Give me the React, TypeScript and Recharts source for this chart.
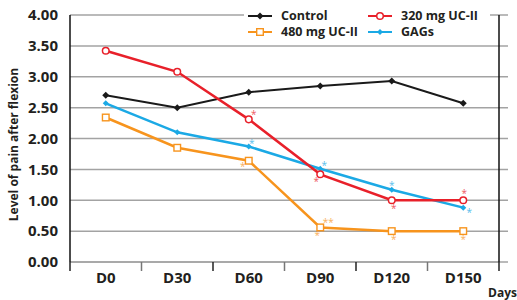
import React from "react";
import { LineChart, Line, XAxis, YAxis, CartesianGrid } from "recharts";

const days = ["D0", "D30", "D60", "D90", "D120", "D150"];
const control = [2.7, 2.5, 2.75, 2.85, 2.93, 2.57];
const uc320 = [3.42, 3.08, 2.31, 1.42, 1.0, 1.0];
const uc480 = [2.34, 1.85, 1.64, 0.56, 0.5, 0.5];
const gags = [2.57, 2.1, 1.87, 1.51, 1.17, 0.88];
const yTicks = [0, 0.5, 1, 1.5, 2, 2.5, 3, 3.5, 4];

// significance marks next to the points
const uc320Sig = ["", "", "*", "*", "*", "*"];
const uc480Sig = ["", "", "*", "*", "*", "*"];
const uc480Sig2 = ["", "", "", "**", "", ""];
const gagsSig = ["", "", "*", "*", "*", "*"];

const FONT = "'Open Sans', sans-serif";
const TXT = "#231f20";
const C = { control: "#1a1a1a", uc320: "#e8202a", uc480: "#f7941d", gags: "#1ba9e5" };

const data = days.map((d, i) => ({
  x: i + 0.5,
  day: d,
  control: control[i],
  uc320: uc320[i],
  uc480: uc480[i],
  gags: gags[i],
  uc320Sig: uc320Sig[i],
  uc480Sig: uc480Sig[i],
  uc480Sig2: uc480Sig2[i],
  gagsSig: gagsSig[i],
}));

// where the stars sit relative to each point
const starOffsets: Record<string, (number[] | null)[]> = {
  uc320Sig: [null, null, [5, -6], [-4, 6], [2, 7], [1, -8]],
  uc480Sig: [null, null, [-6, 4], [-3, 7], [2, 7], [0, 7]],
  uc480Sig2: [null, null, null, [8, -6], null, null],
  gagsSig: [null, null, [3, -5], [4, -5], [0, -6], [6, 3]],
};

const marker = (kind: string, cx: number, cy: number, k?: string) => {
  if (kind === "control")
    return <polygon key={k} points={`${cx},${cy - 3.5} ${cx + 3.5},${cy} ${cx},${cy + 3.5} ${cx - 3.5},${cy}`} fill={C.control} />;
  if (kind === "uc320")
    return <circle key={k} cx={cx} cy={cy} r={3.3} fill="#fff" stroke={C.uc320} strokeWidth={1.5} />;
  if (kind === "uc480")
    return <rect key={k} x={cx - 3.3} y={cy - 3.3} width={6.6} height={6.6} fill="#fff" stroke={C.uc480} strokeWidth={1.4} />;
  return <polygon key={k} points={`${cx},${cy - 3} ${cx + 3},${cy} ${cx},${cy + 3} ${cx - 3},${cy}`} fill={C.gags} />;
};

const makeDot = (kind: string, sigKeys: string[]) => (p: any) => {
  const { cx, cy, index, payload } = p;
  return (
    <g key={`${kind}-${index}`}>
      {marker(kind, cx, cy)}
      {sigKeys.map((sk) => {
        const s = payload[sk];
        const off = starOffsets[sk][index];
        if (!s || !off) return null;
        return (
          <text
            key={sk}
            x={cx + off[0]}
            y={cy + off[1] + 5}
            textAnchor="middle"
            fontSize={10}
            fontFamily={FONT}
            fill={(C as any)[kind]}
            opacity={0.75}
          >
            {s}
          </text>
        );
      })}
    </g>
  );
};

const XTick = (p: any) => {
  const { x, y, payload } = p;
  const v = payload.value;
  if (Number.isInteger(v)) {
    return <line x1={x} x2={x} y1={y} y2={y + 9} stroke={v % 2 === 0 ? "#222" : "#777"} strokeWidth={1.5} />;
  }
  return (
    <text x={x} y={y + 21} textAnchor="middle" fontSize={15} fontWeight={700} fontFamily={FONT} fill={TXT}>
      {days[Math.round(v - 0.5)]}
    </text>
  );
};

const legendItems = [
  { key: "control", name: "Control" },
  { key: "uc320", name: "320 mg UC-II" },
  { key: "uc480", name: "480 mg UC-II" },
  { key: "gags", name: "GAGs" },
];

const Legend = () => (
  <div
    style={{
      position: "absolute",
      left: 244,
      top: 8,
      width: 246,
      height: 34,
      background: "#fff",
      display: "grid",
      gridTemplateColumns: "120px 126px",
      gridAutoRows: "16px",
      fontFamily: FONT,
      fontWeight: 700,
      fontSize: 12.5,
      lineHeight: "16px",
      color: TXT,
    }}
  >
    {legendItems.map((it) => (
      <div key={it.key} style={{ display: "flex", alignItems: "center", whiteSpace: "nowrap", height: 16, overflow: "visible" }}>
        <svg width={26} height={10} style={{ marginLeft: 4, marginRight: 7, flex: "none" }}>
          <line x1={0} x2={24} y1={5} y2={5} stroke={(C as any)[it.key]} strokeWidth={2} />
          {marker(it.key, 12, 5)}
        </svg>
        <span>{it.name}</span>
      </div>
    ))}
  </div>
);

const App = () => (
  <div style={{ position: "absolute", left: 0, top: 0, width: 517, height: 300, background: "#fff" }}>
    <LineChart width={517} height={300} data={data} margin={{ top: 15, right: 0, bottom: 0, left: 0 }}>
      <CartesianGrid
        xAxisId="x"
        yAxisId="l"
        vertical={false}
        horizontal={(p: any) => (
          <line key={p.key} x1={p.x1} x2={p.x2 + 9} y1={p.y1} y2={p.y2} stroke="#a3a3a3" strokeWidth={1.5} />
        )}
      />
      <XAxis
        xAxisId="x"
        type="number"
        dataKey="x"
        domain={[0, 6]}
        ticks={[0, 0.5, 1, 1.5, 2, 2.5, 3, 3.5, 4, 4.5, 5, 5.5, 6]}
        interval={0}
        tick={<XTick />}
        tickLine={false}
        tickSize={0}
        tickMargin={0}
        axisLine={{ stroke: "#a3a3a3", strokeWidth: 1.5 }}
        height={38}
        label={{
          content: (p: any) => (
            <text
              x={p.viewBox.x + p.viewBox.width + 18}
              y={p.viewBox.y + 35}
              textAnchor="end"
              fontSize={12}
              fontWeight={700}
              fontFamily={FONT}
              fill={TXT}
            >
              Days
            </text>
          ),
        }}
      />
      <YAxis
        yAxisId="l"
        type="number"
        domain={[0, 4]}
        ticks={yTicks}
        interval={0}
        width={70}
        tickFormatter={(v: number) => v.toFixed(2)}
        tickLine={false}
        tickMargin={6}
        axisLine={{ stroke: "#111", strokeWidth: 1.5 }}
        tick={{ fontSize: 15, fontWeight: 700, fontFamily: FONT, fill: TXT }}
        label={{
          content: (p: any) => {
            const cy = p.viewBox.y + p.viewBox.height / 2 + 6;
            return (
              <text
                x={13}
                y={cy}
                transform={`rotate(-90 13 ${cy})`}
                textAnchor="middle"
                dominantBaseline="central"
                fontSize={12}
                fontWeight={700}
                fontFamily={FONT}
                fill={TXT}
              >
                Level of pain after  flexion
              </text>
            );
          },
        }}
      />
      <YAxis yAxisId="r" orientation="right" width={18} domain={[0, 4]} tick={false} tickLine={false} axisLine={{ stroke: "#111", strokeWidth: 1.5 }} />
      <Line xAxisId="x" yAxisId="l" dataKey="control" stroke={C.control} strokeWidth={2} dot={makeDot("control", [])} isAnimationActive={false} />
      <Line xAxisId="x" yAxisId="l" dataKey="uc480" stroke={C.uc480} strokeWidth={2.5} dot={makeDot("uc480", ["uc480Sig", "uc480Sig2"])} isAnimationActive={false} />
      <Line xAxisId="x" yAxisId="l" dataKey="gags" stroke={C.gags} strokeWidth={2.5} dot={makeDot("gags", ["gagsSig"])} isAnimationActive={false} />
      <Line xAxisId="x" yAxisId="l" dataKey="uc320" stroke={C.uc320} strokeWidth={2.5} dot={makeDot("uc320", ["uc320Sig"])} isAnimationActive={false} />
    </LineChart>
    <Legend />
  </div>
);

export default App;
